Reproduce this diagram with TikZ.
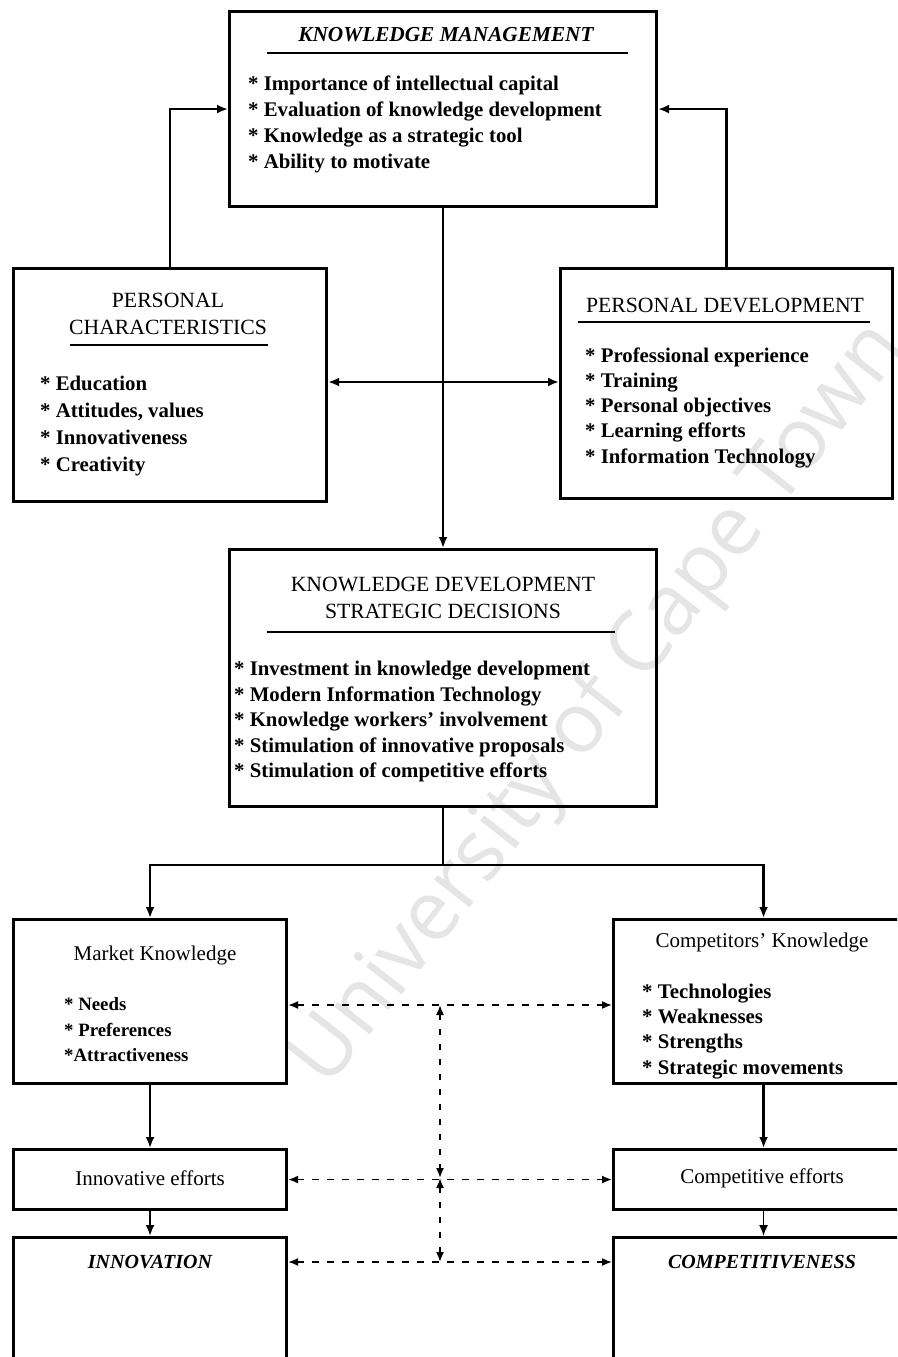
\documentclass[tikz,border=0pt]{standalone}
\usepackage{fontspec}
\setmainfont{Liberation Serif}
\newfontfamily\wmfont{Open Sans}
\usetikzlibrary{arrows.meta,calc}
\begin{document}
\begin{tikzpicture}[x=1pt,y=-1pt,
  panel/.style={draw=black, line width=3.1pt, anchor=north west, inner sep=0pt},
  conn/.style={line width=2.2pt, -{Latex[length=11pt,width=9pt]}},
  biconn/.style={line width=2.2pt, {Latex[length=11pt,width=9pt]}-{Latex[length=11pt,width=9pt]}},
  dconn/.style={line width=1.6pt, dash pattern=on 7pt off 8pt,
    {Latex[length=10pt,width=8pt]}-{Latex[length=10pt,width=8pt]}},
  rule/.style={line width=1.3pt},
  item/.style={anchor=west, inner sep=0pt, text height=14pt, text depth=4pt,
    font=\fontsize{20.8}{24}\selectfont\bfseries},
  head/.style={inner sep=0pt, align=center, font=\fontsize{21.7}{27}\selectfont},
  subhead/.style={inner sep=0pt, font=\fontsize{21}{24}\selectfont},
  bighead/.style={inner sep=0pt, font=\fontsize{21.3}{24}\selectfont\bfseries\itshape},
  watermark/.style={inner sep=0pt, rotate=52, text=black!10,
    font=\fontsize{84}{84}\selectfont\wmfont}
]
\useasboundingbox (0,0) rectangle (897,1357);
\clip (0,0) rectangle (897,1357);
\fill[white] (0,0) rectangle (897,1357);

% faint diagonal watermark behind everything
\node[watermark] (wm) at (600,705) {University of Cape Town};

% ---- frames ----
\node[panel, minimum width=427pt, minimum height=195pt] (km)   at (228,10)   {};
\node[panel, minimum width=313pt, minimum height=233pt] (pc)   at (12,267)   {};
\node[panel, minimum width=332pt, minimum height=230pt] (pd)   at (559,267)  {};
\node[panel, minimum width=427pt, minimum height=257pt] (kd)   at (228,548)  {};
\node[panel, minimum width=273pt, minimum height=164pt] (mk)   at (12,918)   {};
\node[panel, minimum width=300pt, minimum height=164pt] (ck)   at (612,918)  {};
\node[panel, minimum width=273pt, minimum height=60pt]  (ie)   at (12,1148)  {};
\node[panel, minimum width=300pt, minimum height=60pt]  (ce)   at (612,1148) {};
\node[panel, minimum width=273pt, minimum height=200pt] (inn)  at (12,1236)  {};
\node[panel, minimum width=300pt, minimum height=200pt] (comp) at (612,1236) {};

% ---- knowledge management ----
\node[bighead] (kmt) at (446,35) {KNOWLEDGE MANAGEMENT};
\draw[rule] (267,53) -- (628,53);
\foreach \t [count=\i] in {* Importance of intellectual capital,
    * Evaluation of knowledge development, * Knowledge as a strategic tool,
    * Ability to motivate}
  \node[item] (km\i) at (248,{59+26*\i}) {\t};

% ---- personal characteristics ----
\node[head] (pct) at (168,314) {PERSONAL\\CHARACTERISTICS};
\draw[rule] (70,345) -- (268,345);
\foreach \t [count=\i] in {* Education, {* Attitudes, values},
    * Innovativeness, * Creativity}
  \node[item] (pc\i) at (40,{358+27*\i}) {\t};

% ---- personal development ----
\node[head] (pdt) at (725,305) {PERSONAL DEVELOPMENT};
\draw[rule] (578,322) -- (870,322);
\foreach \t [count=\i] in {* Professional experience, * Training,
    * Personal objectives, * Learning efforts, * Information Technology}
  \node[item] (pd\i) at (585,{332+25.2*\i}) {\t};

% ---- strategic decisions ----
\node[head] (kdt) at (443,598) {KNOWLEDGE DEVELOPMENT\\STRATEGIC DECISIONS};
\draw[rule] (267,632) -- (615,632);
\foreach \t [count=\i] in {* Investment in knowledge development,
    * Modern Information Technology, * Knowledge workers' involvement,
    * Stimulation of innovative proposals, * Stimulation of competitive efforts}
  \node[item] (kd\i) at (234,{645+25.5*\i}) {\t};

% ---- market / competitors ----
\node[subhead] (mkt) at (155,955) {Market Knowledge};
\foreach \t [count=\i] in {* Needs, * Preferences, *Attractiveness}
  \node[item, font=\fontsize{18.8}{24}\selectfont\bfseries] (mk\i) at (64,{980+25.5*\i}) {\t};

\node[subhead] (ckt) at (762,942) {Competitors' Knowledge};
\foreach \t [count=\i] in {* Technologies, * Weaknesses, * Strengths,
    * Strategic movements}
  \node[item] (ck\i) at (642,{968+25.3*\i}) {\t};

% ---- efforts and outcomes ----
\node[subhead] (iet) at (150,1178) {Innovative efforts};
\node[subhead] (cet) at (762,1178) {Competitive efforts};
\node[bighead, font=\fontsize{20}{24}\selectfont\bfseries\itshape] (innt) at (150,1262) {INNOVATION};
\node[bighead, font=\fontsize{20}{24}\selectfont\bfseries\itshape] (compt) at (762,1262) {COMPETITIVENESS};

% ---- solid connectors ----
\draw[conn] (pc.north) |- (km.west);
\draw[conn] (pd.north) |- (km.east);
\draw[conn] (km.south) -- (kd.north);
\draw[biconn] (pc.east |- 0,382) -- (pd.west |- 0,382);
\coordinate (split) at ($(kd.south)+(0,57)$);
\draw[line width=2.2pt] (kd.south) -- (split);
\draw[conn] (split) -| (mk.north);
\draw[conn] (split) -| (ck.north);
\draw[conn] (mk.south) -- (ie.north);
\draw[conn] (ck.south) -- (ce.north);
\draw[conn] (ie.south) -- (inn.north);
\draw[conn, line width=1.6pt] (ce.south) -- (comp.north);

% ---- dashed feedback links ----
\coordinate (v1) at (440,1005);
\coordinate (v2) at (440,1178);
\coordinate (v3) at (440,1262);
\draw[dconn] (mk.east |- v1) -- (ck.west |- v1);
\draw[dconn] (ie.east) -- (ce.west);
\draw[dconn] (inn.east |- v3) -- (comp.west |- v3);
\draw[dconn, dash pattern=on 6pt off 9pt] (v1) -- (v2);
\draw[dconn, dash pattern=on 6pt off 9pt] (v2) -- (v3);
\end{tikzpicture}
\end{document}
